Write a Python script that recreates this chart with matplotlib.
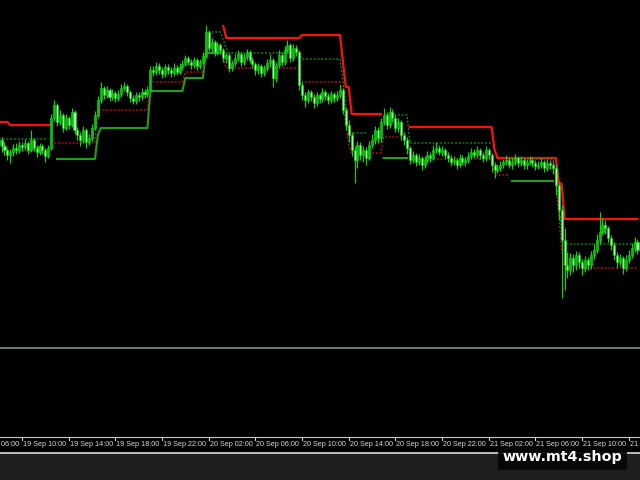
import numpy as np
import pandas as pd
import matplotlib
matplotlib.use("Agg")
import matplotlib.pyplot as plt
from matplotlib.patches import FancyBboxPatch, Rectangle
from matplotlib.lines import Line2D

# M15 bars from 19 Sep 08:00, prices in points
first_open = 255
close = [260,254,250,245,248,252,250,255,253,257,250,260,252,248,254,250,244,252,
         282,295,278,285,272,282,275,288,270,
         265,260,270,258,262,272,285,300,
         312,305,310,303,307,302,306,312,314,308,302,299,305,303,308,306,310,
         330,328,334,330,326,333,330,327,332,328,333,336,
         342,338,335,340,334,338,344,
         368,352,358,348,355,350,
         342,345,332,337,
         342,346,338,343,348,340,336,
         330,334,327,332,337,
         340,322,335,
         345,338,350,355,342,352,348,
         315,305,
         300,308,303,297,305,301,308,304,300,306,302,305,310,
         290,275,265,250,240,255,245,
         250,242,255,260,270,262,
         278,285,275,288,282,272,278,265,260,252,
         240,245,238,242,235,240,245,242,
         250,252,248,250,245,242,238,240,235,242,238,240,244,248,245,250,245,242,250,245,
         235,230,232,235,238,240,235,238,242,237,240,235,238,240,237,234,235,238,232,237,235,232,
         215,190,160,135,
         130,142,135,145,138,132,140,135,145,150,
         160,168,175,172,162,
         155,145,138,142,132,140,145,
         152,158,150]
high = [266,263,258,252,251,256,257,259,258,261,259,270,262,255,257,256,252,255,
        286,300,297,290,287,286,284,292,290,
        273,268,274,272,266,276,289,304,
        318,314,314,312,311,309,310,316,318,316,310,305,308,308,312,311,314,
        334,334,338,337,333,336,336,333,337,335,337,340,
        345,344,341,343,342,341,348,
        375,370,362,360,358,357,
        352,348,347,340,
        346,350,348,347,351,350,343,
        338,337,336,335,341,
        346,342,338,
        350,348,354,360,357,356,355,
        350,318,
        308,311,310,306,308,307,312,310,307,309,308,309,315,
        312,293,280,268,254,259,258,
        254,253,259,266,274,273,
        282,292,288,293,291,285,282,280,268,263,
        254,249,247,246,244,244,249,248,
        255,258,255,254,252,248,245,244,242,246,245,243,248,252,251,254,252,248,254,252,
        247,238,236,239,241,245,243,242,246,244,244,242,241,244,242,240,239,242,240,241,240,238,
        236,218,195,172,
        148,147,146,149,148,141,144,143,149,156,
        166,188,182,180,174,
        165,158,148,146,144,145,150,
        157,163,161]
low = [250,248,245,240,237,244,246,247,249,250,246,248,249,243,245,246,238,242,
       250,279,274,275,268,270,271,273,266,
       260,254,257,252,255,259,270,282,
       297,301,302,299,300,298,299,303,309,304,298,296,296,299,300,302,303,
       308,324,325,326,322,323,326,323,324,325,326,330,
       334,335,331,332,330,331,336,
       342,349,348,344,345,346,
       338,337,328,329,
       334,339,334,335,340,337,332,
       325,326,323,324,329,
       333,313,318,
       332,334,335,347,338,339,344,
       310,300,
       293,297,299,292,294,297,298,300,296,297,298,299,302,
       286,270,258,244,217,232,240,
       238,235,240,252,256,257,
       258,275,271,272,278,268,268,260,255,246,
       236,237,234,235,230,232,237,238,
       240,247,245,244,241,238,234,235,231,233,235,234,237,241,242,242,241,238,239,241,
       228,222,227,229,232,235,232,231,235,233,234,231,231,235,233,230,231,232,228,229,231,226,
       205,180,102,110,
       122,125,128,130,132,125,128,130,131,141,
       147,156,165,166,158,
       150,140,132,134,126,129,137,
       142,148,146]

# indicator levels: (first bar, last bar, level)
red_stop = [(0, 3, 278), (4, 18, 275), (77, 77, 374), (78, 103, 362), (104, 117, 365),
            (118, 118, 339), (119, 120, 313), (121, 131, 286), (141, 169, 273),
            (170, 170, 250), (171, 191, 242), (192, 192, 218), (193, 193, 216), (194, 219, 181)]
green_stop = [(20, 33, 241), (34, 34, 265), (35, 51, 272), (52, 63, 309), (64, 70, 322),
              (71, 76, 347), (132, 140, 242), (176, 190, 219)]
red_dots = [(3, 17, 249), (19, 33, 257), (34, 51, 290), (52, 63, 318), (64, 70, 328),
            (71, 76, 355), (77, 77, 343), (78, 103, 332), (104, 117, 318), (118, 118, 300),
            (119, 119, 275), (120, 120, 255), (121, 131, 247), (132, 140, 263), (141, 169, 241),
            (170, 175, 225), (191, 191, 215), (192, 192, 185), (193, 193, 150), (194, 219, 132)]
green_dots = [(0, 17, 261), (73, 76, 368), (77, 77, 360), (78, 78, 352), (79, 103, 347),
              (104, 117, 341), (118, 118, 320), (119, 119, 290), (120, 126, 267), (133, 140, 285),
              (141, 169, 257), (175, 190, 241), (191, 191, 225), (192, 192, 195), (193, 193, 170),
              (194, 219, 156)]

n = len(close)
opn = [first_open] + close[:-1]
times = pd.date_range("2023-09-19 08:00", periods=n, freq="15min")


def levels(segs):
    arr = np.full(n, np.nan)
    for a, b, v in segs:
        arr[a:b + 1] = v
    return arr


W, H = 640, 480
fig = plt.figure(figsize=(6.4, 4.8), dpi=100, facecolor="black")


def fy(y):
    return 1 - y / H


xl = (8 - 22 / 2.917, 8 + (640 - 22) / 2.917)

# main price window
ax = fig.add_axes([0, fy(346), 1, 346 / H])
ax.set_facecolor("black")
ax.set_xlim(xl)
ax.set_ylim(54, 400)
ax.axis("off")

idx = np.arange(n)
o = np.array(opn); c = np.array(close); h = np.array(high); l = np.array(low)
bull = c >= o

ax.plot(idx, levels(red_stop), color="#ff1010", lw=1.6, zorder=2)
ax.plot(idx, levels(green_stop), color="#1e9e1e", lw=1.5, zorder=2)
ax.plot(idx, levels(red_dots), color="#dd1111", lw=0.9, ls=(0, (1.5, 1.5)), zorder=2)
ax.plot(idx, levels(green_dots), color="#12a012", lw=0.9, ls=(0, (1.5, 1.5)), zorder=2)

ax.vlines(idx, l, h, color="#00dd00", lw=0.8, zorder=3)
body_h = np.maximum(np.abs(c - o), 0.8)
body_b = np.minimum(o, c)
ax.bar(idx[bull], body_h[bull], bottom=body_b[bull], width=0.7,
       color="#14b814", edgecolor="#00f000", lw=0.4, zorder=4)
ax.bar(idx[~bull], body_h[~bull], bottom=body_b[~bull], width=0.7,
       color="#a8f0a8", edgecolor="#00e000", lw=0.4, zorder=4)

# empty indicator sub-window
sub = fig.add_axes([0, fy(437), 1, (437 - 349) / H])
sub.set_facecolor("black")
sub.axis("off")

# time scale
tx = fig.add_axes([0, fy(453), 1, (453 - 437) / H])
tx.set_facecolor("black")
tx.set_xlim(xl)
tx.set_ylim(16, 0)
tx.axis("off")
lab_times = pd.date_range(times[0] - pd.Timedelta(hours=2), times[-1], freq="4h")
for t in lab_times:
    i = (t - times[0]) / pd.Timedelta(minutes=15)
    tx.plot([i, i], [0, 3], color="#d0d0d0", lw=0.8)
    tx.text(i + 0.3, 7.5, t.strftime("%d %b %H:%M"), color="#d8d8d8", fontsize=5.2,
            family="Liberation Sans", ha="left", va="center", clip_on=True)

# decorations in pixel space
ov = fig.add_axes([0, 0, 1, 1], facecolor="none")
ov.set_xlim(0, W)
ov.set_ylim(H, 0)
ov.axis("off")
ov.add_patch(Rectangle((0, 453), W, 27, color="#1e1e1e", zorder=0))
ov.add_line(Line2D([0, W], [347.5, 347.5], color="#6e7878", lw=1.5))
ov.add_line(Line2D([0, W], [437, 437], color="#c8c8c8", lw=0.8))
ov.add_line(Line2D([0, W], [453, 453], color="#d8d8d8", lw=1.2))
ov.add_patch(FancyBboxPatch((498, 447), 129, 23, boxstyle="square,pad=0",
                            facecolor="#050505", edgecolor="none", alpha=0.92, zorder=5))
ov.text(562, 457.5, "www.mt4.shop", color="white", fontsize=10.3, fontweight="bold",
        family="DejaVu Sans", ha="center", va="center", zorder=6)

fig.savefig("out.png", dpi=100, facecolor=fig.get_facecolor())
